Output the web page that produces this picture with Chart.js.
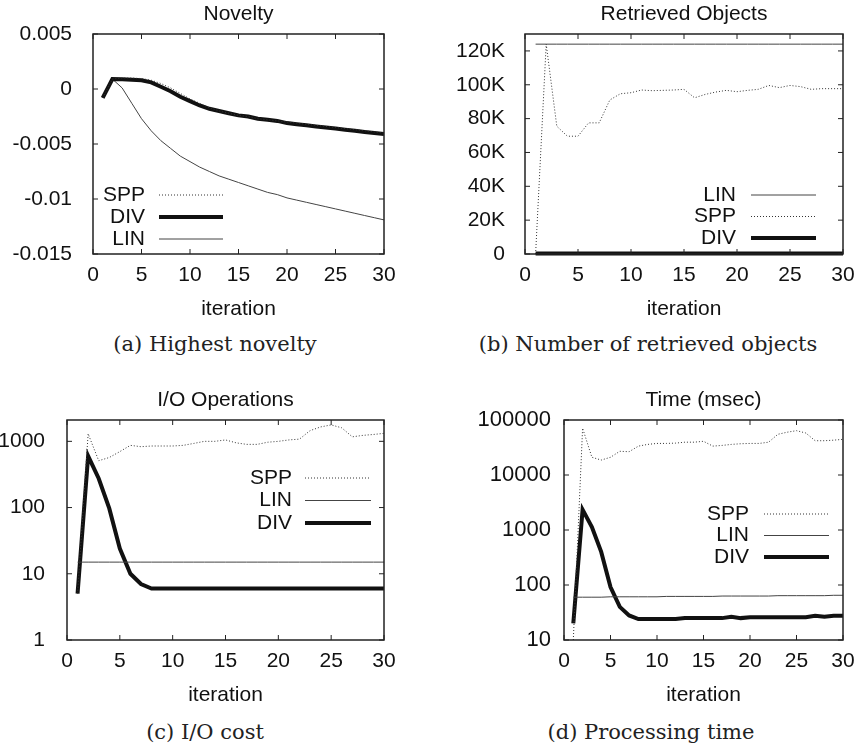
<!DOCTYPE html>
<html>
<head>
<meta charset="utf-8">
<title>Novelty / Retrieved Objects / I/O / Time</title>
<script src="https://cdn.jsdelivr.net/npm/chart.js@4.4.1/dist/chart.umd.min.js"></script>
<style>
  body { margin: 0; background: #fff; width: 862px; height: 749px; position: relative; overflow: hidden; }
  canvas { position: absolute; }
  .caption {
    position: absolute;
    font-family: "DejaVu Serif", "Liberation Serif", serif;
    font-size: 21px;
    line-height: 1;
    color: #222;
    white-space: nowrap;
    transform: translateX(-50%);
  }
</style>
</head>
<body>
<canvas id="novelty" width="431" height="325" style="left:0;top:0"></canvas>
<canvas id="retrieved" width="431" height="325" style="left:431px;top:0"></canvas>
<canvas id="io" width="431" height="325" style="left:0;top:386px"></canvas>
<canvas id="time" width="431" height="325" style="left:431px;top:386px"></canvas>

<div class="caption" style="left:215px;top:334px">(a) Highest novelty</div>
<div class="caption" style="left:648px;top:334px">(b) Number of retrieved objects</div>
<div class="caption" style="left:205px;top:722px">(c) I/O cost</div>
<div class="caption" style="left:651px;top:722px">(d) Processing time</div>

<script>
// x axis: iteration number
const iterations = [1, 2, 3, 4, 5, 6, 7, 8, 9, 10, 11, 12, 13, 14, 15,
  16, 17, 18, 19, 20, 21, 22, 23, 24, 25, 26, 27, 28, 29, 30];
const xTicks = [0, 5, 10, 15, 20, 25, 30];

// (a) Novelty
const noveltySPP = [-0.0008, 0.0009, 0.001, 0.001, 0.00095, 0.0008, 0.0005, 0.0001, -0.0004, -0.0009,
  -0.0013, -0.0017, -0.0020, -0.0022, -0.0024, -0.0025, -0.0027, -0.0028, -0.0029, -0.0030,
  -0.0031, -0.0032, -0.0033, -0.0034, -0.0035, -0.0036, -0.0037, -0.0038, -0.0039, -0.0040];
const noveltyDIV = [-0.0008, 0.0009, 0.00088, 0.00085, 0.0008, 0.0006, 0.0002, -0.0002, -0.0007, -0.0011,
  -0.0015, -0.0018, -0.0020, -0.0022, -0.0024, -0.0025, -0.0027, -0.0028, -0.0029, -0.0031,
  -0.0032, -0.0033, -0.0034, -0.0035, -0.0036, -0.0037, -0.0038, -0.0039, -0.0040, -0.0041];
const noveltyLIN = [-0.0008, 0.0009, 0.0001, -0.0013, -0.0027, -0.0038, -0.0047, -0.0054, -0.0061, -0.0066,
  -0.0071, -0.0075, -0.0079, -0.0082, -0.0085, -0.0088, -0.0091, -0.0094, -0.0096, -0.0099,
  -0.0101, -0.0103, -0.0105, -0.0107, -0.0109, -0.0111, -0.0113, -0.0115, -0.0117, -0.0119];
const noveltyTicks = [-0.015, -0.01, -0.005, 0, 0.005];
const noveltyTickLabels = ["-0.015", "-0.01", "-0.005", "0", "0.005"];

// (b) Retrieved objects
const retrievedLIN = [124000, 124000, 124000, 124000, 124000, 124000, 124000, 124000, 124000, 124000,
  124000, 124000, 124000, 124000, 124000, 124000, 124000, 124000, 124000, 124000,
  124000, 124000, 124000, 124000, 124000, 124000, 124000, 124000, 124000, 124000];
const retrievedSPP = [0, 124000, 75500, 69600, 69600, 77500, 77500, 91000, 94700, 95300,
  96900, 96500, 96700, 96900, 97300, 92300, 94300, 95700, 96700, 95900,
  96700, 97300, 99600, 98300, 99600, 98900, 97300, 97700, 97700, 97700];
const retrievedDIV = [250, 250, 250, 250, 250, 250, 250, 250, 250, 250,
  250, 250, 250, 250, 250, 250, 250, 250, 250, 250,
  250, 250, 250, 250, 250, 250, 250, 250, 250, 250];
const retrievedTicks = [0, 20000, 40000, 60000, 80000, 100000, 120000];
const retrievedTickLabels = ["0", "20K", "40K", "60K", "80K", "100K", "120K"];

// (c) I/O operations
const ioSPP = [5, 1300, 510, 570, 700, 870, 830, 850, 850, 850,
  870, 930, 1000, 1000, 1050, 950, 900, 900, 970, 1000,
  1050, 1080, 1450, 1650, 1770, 1600, 1170, 1230, 1270, 1320];
const ioLIN = [15, 15, 15, 15, 15, 15, 15, 15, 15, 15,
  15, 15, 15, 15, 15, 15, 15, 15, 15, 15,
  15, 15, 15, 15, 15, 15, 15, 15, 15, 15];
const ioDIV = [5, 600, 275, 97, 24, 10, 7, 6, 6, 6,
  6, 6, 6, 6, 6, 6, 6, 6, 6, 6,
  6, 6, 6, 6, 6, 6, 6, 6, 6, 6];
const ioTicks = [1, 10, 100, 1000];
const ioTickLabels = ["1", "10", "100", "1000"];

// (d) Time (msec)
const timeSPP = [10, 71000, 21000, 18700, 21000, 27000, 26500, 33500, 36000, 37500,
  37500, 38000, 39500, 39500, 41000, 33500, 34500, 36000, 37000, 37500,
  37500, 39500, 55000, 60000, 64000, 58000, 42000, 42000, 43000, 44500];
const timeLIN = [60, 60, 60, 60, 61, 61, 61, 61, 61, 61,
  62, 62, 62, 62, 62, 62, 63, 63, 63, 63,
  63, 63, 64, 64, 64, 64, 64, 64, 65, 65];
const timeDIV = [20, 2350, 1130, 400, 92, 40, 28, 24, 24, 24,
  24, 24, 25, 25, 25, 25, 25, 26.5, 25, 26,
  26, 26, 26, 26, 26, 26, 27.5, 26.5, 27.5, 27.5];
const timeTicks = [10, 100, 1000, 10000, 100000];
const timeTickLabels = ["10", "100", "1000", "10000", "100000"];

const FONT = '"Liberation Sans", Arial, Helvetica, sans-serif';
const FONT_SIZE = 21;
Chart.defaults.font.family = FONT;
Chart.defaults.font.size = FONT_SIZE;
Chart.defaults.color = "#111";

// line looks for the three methods (gnuplot style)
const styles = {
  SPP: { borderColor: "#333", borderWidth: 1, borderDash: [1, 2] },
  DIV: { borderColor: "#111", borderWidth: 4 },
  LIN: { borderColor: "#444", borderWidth: 1 },
};

function series(label, values, extra) {
  return Object.assign({
    label: label,
    data: values.map((v, i) => ({ x: iterations[i], y: v })),
    pointRadius: 0,
    tension: 0,
    fill: false,
  }, styles[label], extra || {});
}

// box around plot area + inward ticks on all four sides
const frame = {
  id: "frame",
  afterDatasetsDraw(chart) {
    const { ctx, chartArea: a, scales } = chart;
    ctx.save();
    ctx.strokeStyle = "#222";
    ctx.lineWidth = 1.5;
    ctx.strokeRect(a.left, a.top, a.right - a.left, a.bottom - a.top);
    ctx.lineWidth = 1;
    ctx.beginPath();
    scales.x.ticks.forEach((t) => {
      const px = scales.x.getPixelForValue(t.value);
      ctx.moveTo(px, a.bottom); ctx.lineTo(px, a.bottom - 5);
      ctx.moveTo(px, a.top); ctx.lineTo(px, a.top + 5);
    });
    scales.y.ticks.forEach((t) => {
      const py = scales.y.getPixelForValue(t.value);
      ctx.moveTo(a.left, py); ctx.lineTo(a.left + 5, py);
      ctx.moveTo(a.right, py); ctx.lineTo(a.right - 5, py);
    });
    ctx.stroke();
    ctx.restore();
  },
};

// title centred over the plot box (not the whole canvas)
const panelTitle = {
  id: "panelTitle",
  afterDraw(chart, args, opts) {
    const { ctx, chartArea: a } = chart;
    ctx.save();
    ctx.font = FONT_SIZE + "px " + FONT;
    ctx.fillStyle = "#111";
    ctx.textAlign = "center";
    ctx.textBaseline = "middle";
    ctx.fillText(opts.text, (a.left + a.right) / 2, opts.y);
    ctx.restore();
  },
};

// gnuplot-like key: label right aligned, then a line sample
const gnuLegend = {
  id: "gnuLegend",
  afterDraw(chart, args, opts) {
    const ctx = chart.ctx;
    ctx.save();
    ctx.font = FONT_SIZE + "px " + FONT;
    ctx.textAlign = "right";
    ctx.textBaseline = "middle";
    chart.data.datasets.forEach((ds, i) => {
      const y = opts.top + i * opts.row;
      ctx.fillStyle = "#111";
      ctx.fillText(ds.label, opts.textRight, y);
      ctx.beginPath();
      ctx.setLineDash(ds.borderDash || []);
      ctx.lineWidth = ds.borderWidth;
      ctx.strokeStyle = ds.borderColor;
      ctx.moveTo(opts.lineStart, y);
      ctx.lineTo(opts.lineEnd, y);
      ctx.stroke();
    });
    ctx.restore();
  },
};

function makeChart(id, cfg) {
  const ctx = document.getElementById(id).getContext("2d");
  return new Chart(ctx, {
    type: "line",
    data: { datasets: cfg.datasets },
    options: {
      responsive: false,
      animation: false,
      devicePixelRatio: 1,
      layout: { padding: { left: 0, right: cfg.padRight, top: 34, bottom: 0 } },
      plugins: {
        legend: { display: false },
        tooltip: { enabled: false },
        title: { display: false },
        panelTitle: { text: cfg.title, y: 14 },
        gnuLegend: cfg.legend,
      },
      scales: {
        x: {
          type: "linear",
          min: 0,
          max: 30,
          afterBuildTicks: (s) => { s.ticks = xTicks.map((v) => ({ value: v })); },
          afterFit: (s) => { s.height = 71; },
          grid: { display: false },
          border: { display: false },
          ticks: { padding: 1, maxRotation: 0, autoSkip: false, color: "#111",
            callback: (v) => String(v) },
          title: { display: true, text: "iteration", color: "#111",
            font: { size: FONT_SIZE }, padding: { top: 0, bottom: 3 } },
        },
        y: {
          type: cfg.yType,
          min: cfg.yMin,
          max: cfg.yMax,
          afterBuildTicks: (s) => { s.ticks = cfg.yTicks.map((v) => ({ value: v })); },
          afterFit: (s) => { s.width = cfg.yWidth; },
          grid: { display: false },
          border: { display: false },
          ticks: { padding: cfg.yPad, autoSkip: false, color: "#111",
            font: { size: cfg.yFont || FONT_SIZE },
            callback: (v, i) => cfg.yLabels[i] },
        },
      },
    },
    plugins: [frame, panelTitle, gnuLegend],
  });
}

makeChart("novelty", {
  title: "Novelty",
  datasets: [series("SPP", noveltySPP), series("DIV", noveltyDIV), series("LIN", noveltyLIN)],
  yType: "linear", yMin: -0.015, yMax: 0.005,
  yTicks: noveltyTicks, yLabels: noveltyTickLabels,
  yWidth: 93, yPad: 13, padRight: 47,
  legend: { textRight: 145, lineStart: 159, lineEnd: 223, top: 195, row: 22 },
});

makeChart("retrieved", {
  title: "Retrieved Objects",
  datasets: [series("LIN", retrievedLIN), series("SPP", retrievedSPP),
    series("DIV", retrievedDIV, { clip: 3 })],
  yType: "linear", yMin: 0, yMax: 130000,
  yTicks: retrievedTicks, yLabels: retrievedTickLabels,
  yWidth: 94, yPad: 12, padRight: 19,
  legend: { textRight: 305, lineStart: 320, lineEnd: 385, top: 195, row: 21.5 },
});

makeChart("io", {
  title: "I/O Operations",
  datasets: [series("SPP", ioSPP), series("LIN", ioLIN), series("DIV", ioDIV)],
  yType: "logarithmic", yMin: 1, yMax: 2100,
  yTicks: ioTicks, yLabels: ioTickLabels,
  yWidth: 67, yPad: 14, padRight: 47,
  legend: { textRight: 292, lineStart: 305, lineEnd: 371, top: 92, row: 22.5 },
});

makeChart("time", {
  title: "Time (msec)",
  datasets: [series("SPP", timeSPP), series("LIN", timeLIN), series("DIV", timeDIV)],
  yType: "logarithmic", yMin: 10, yMax: 100000,
  yTicks: timeTicks, yLabels: timeTickLabels,
  yWidth: 133, yPad: 5, yFont: 22, padRight: 19,
  legend: { textRight: 318, lineStart: 333, lineEnd: 398, top: 128, row: 21.5 },
});
</script>
</body>
</html>
